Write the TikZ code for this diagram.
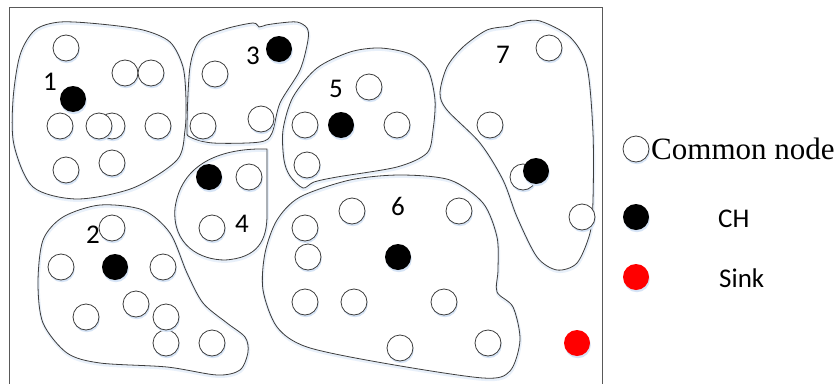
\documentclass[tikz,border=0pt]{standalone}
\usepackage{fontspec}
\setmainfont{Carlito}
\newfontfamily\legserif{Liberation Serif}
\usetikzlibrary{shadows}
\definecolor{shblue}{RGB}{214,228,246}
\definecolor{shblueb}{RGB}{232,240,250}
\definecolor{lineg}{RGB}{60,60,60}
\tikzset{
  base/.style={circle, inner sep=0pt, minimum size=26pt,
    drop shadow={opacity=1, fill=shblue, shadow xshift=0.8pt, shadow yshift=-2.2pt}},
  cn/.style={base, draw=lineg, line width=0.8pt, fill=white},
  chn/.style={base, fill=black},
  sinkn/.style={base, fill=red},
  num/.style={anchor=base, inner sep=0pt, font=\fontsize{27}{27}\selectfont},
  outline/.style={draw=lineg, line width=0.8pt},
  outshadow/.style={draw=shblueb, line width=2.6pt, shift={(0.5,1.6)}},
  frame/.style={draw=black!65, line width=1pt}
}
\newcommand\blob[1]{%
  \draw[outshadow] plot[smooth cycle] coordinates {#1};
  \draw[outline] plot[smooth cycle] coordinates {#1};}
\begin{document}
\begin{tikzpicture}[x=1pt, y=-1pt]
\useasboundingbox (0,0) rectangle (835,383);
\fill[white] (0,0) rectangle (835,383);
\draw[frame] (9,7) rectangle (602,390);

% cluster outlines
\blob{(13,100) (20,55) (35,30) (60,22) (100,24) (143,30) (170,42) (183,67) (186,100) (185,130) (177,160) (133,188) (77,199) (33,187) (14,145)}
\blob{(200,40) (225,29) (253,23) (259,27) (266,25) (280,23) (297,22) (307,28) (308,40) (300,70) (280,103) (272,133) (260,142) (213,143) (190,137) (187,127) (190,67)}
\blob{(293,97) (317,68) (350,52) (380,48) (410,54) (428,70) (435,100) (433,130) (427,153) (397,167) (337,177) (314,182) (303,188) (290,176) (284,160) (283,130)}
\blob{(510,26) (520,22) (540,21) (570,37) (587,67) (593,133) (593,200) (590,233) (577,263) (557,270) (537,257) (517,217) (503,180) (480,143) (447,110) (440,93) (447,67) (463,47) (487,30)}
\blob{(63,217) (100,205) (143,210) (170,233) (187,273) (203,303) (227,323) (245,337) (248,352) (240,370) (217,375) (167,367) (100,363) (67,353) (43,323) (38,283) (43,240)}
\blob{(400,175) (450,180) (483,203) (497,237) (498,270) (497,292) (513,307) (520,340) (510,371) (483,378) (383,363) (307,347) (277,327) (263,290) (265,253) (277,220) (300,197) (350,180)}
\draw[outshadow] (267,149) .. controls (230,148) and (182,158) .. (175,208) .. controls (172,245) and (200,260) .. (225,260) .. controls (258,258) and (267,240) .. (267,215) -- cycle;
\draw[outline] (267,149) .. controls (230,148) and (182,158) .. (175,208) .. controls (172,245) and (200,260) .. (225,260) .. controls (258,258) and (267,240) .. (267,215) -- cycle;

% cluster 1
\node[cn] (a1) at (66,48) {};
\node[cn] (a2) at (125,73) {};
\node[cn] (a3) at (151,73) {};
\node[chn] (h1) at (73,99) {};
\node[cn] (a4) at (60,126) {};
\node[cn] (a6) at (112,126) {};
\node[cn] (a5) at (99,126) {};
\node[cn] (a7) at (158,126) {};
\node[cn] (a8) at (66,170) {};
\node[cn] (a9) at (112,163) {};
\node[num] (l1) at (50,90) {1};

% cluster 3
\node[chn] (h3) at (279,49) {};
\node[cn] (b1) at (215,74) {};
\node[cn] (b2) at (203,126) {};
\node[cn] (b3) at (261,119) {};
\node[num] (l3) at (253,64) {3};

% cluster 5
\node[cn] (e1) at (369,87) {};
\node[chn] (h5) at (341,125) {};
\node[cn] (e2) at (305,125) {};
\node[cn] (e3) at (397,125) {};
\node[cn] (e4) at (307,165) {};
\node[num] (l5) at (336,97) {5};

% cluster 7
\node[cn] (g1) at (549,48) {};
\node[cn] (g2) at (490,125) {};
\node[cn] (g3) at (523,177) {};
\node[chn] (h7) at (536,171) {};
\node[cn] (g4) at (582,217) {};
\node[num] (l7) at (503,63) {7};

% cluster 4
\node[chn] (h4) at (209,177) {};
\node[cn] (d1) at (249,177) {};
\node[cn] (d2) at (212,228) {};
\node[num] (l4) at (242,232) {4};

% cluster 2
\node[cn] (c1) at (112,228) {};
\node[cn] (c2) at (61,267) {};
\node[chn] (h2) at (115,267) {};
\node[cn] (c3) at (163,267) {};
\node[cn] (c4) at (136,304) {};
\node[cn] (c5) at (86,317) {};
\node[cn] (c7) at (166,343) {};
\node[cn] (c6) at (166,317) {};
\node[cn] (c8) at (212,343) {};
\node[num] (l2) at (93,243) {2};

% cluster 6
\node[cn] (f1) at (352,211) {};
\node[cn] (f2) at (459,211) {};
\node[cn] (f3) at (305,228) {};
\node[cn] (f4) at (308,257) {};
\node[chn] (h6) at (398,257) {};
\node[cn] (f5) at (305,302) {};
\node[cn] (f6) at (354,302) {};
\node[cn] (f7) at (444,302) {};
\node[cn] (f8) at (400,348) {};
\node[cn] (f9) at (488,343) {};
\node[num] (l6) at (398,215) {6};

% sink
\node[sinkn] (sk) at (577,343) {};

% legend
\node[cn] (lg1) at (636,149) {};
\node[anchor=base west, inner sep=0pt, font=\legserif\fontsize{31}{31}\selectfont] (lt1) at (651,159) {Common node};
\node[chn] (lg2) at (636,217) {};
\node[num, anchor=base west] (lt2) at (718,227) {CH};
\node[sinkn] (lg3) at (636,277) {};
\node[num, anchor=base west] (lt3) at (719,287) {Sink};
\end{tikzpicture}
\end{document}
